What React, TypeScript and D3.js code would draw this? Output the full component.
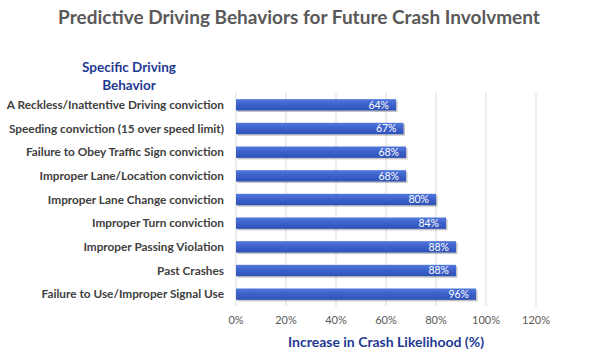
import React from 'react';
import * as d3 from 'd3';

const behaviors = [
    'A Reckless/Inattentive Driving conviction',
    'Speeding conviction (15 over speed limit)',
    'Failure to Obey Traffic Sign conviction',
    'Improper Lane/Location conviction',
    'Improper Lane Change conviction',
    'Improper Turn conviction',
    'Improper Passing Violation',
    'Past Crashes',
    'Failure to Use/Improper Signal Use',
];
const increase = [0.64, 0.67, 0.68, 0.68, 0.80, 0.84, 0.88, 0.88, 0.96];
const xTicks = [0, 0.2, 0.4, 0.6, 0.8, 1.0, 1.2];

const width = 600;
const height = 360;
const font = 'Lato, "Open Sans", sans-serif';

const App: React.FC = () => {
    const x = d3.scaleLinear().domain([0, 1.2]).range([236, 536]);
    const y = d3.scaleBand<string>()
        .domain(behaviors)
        .range([93, 306])
        .paddingInner(0.52)
        .paddingOuter(0.26);
    const pct = d3.format('.0%');

    return (
        <svg width={width} height={height}
            style={{ position: 'absolute', left: 0, top: 0, background: '#fff' }}>
            <defs>
                <linearGradient id="barFill" x1="0" y1="0" x2="0" y2="1">
                    <stop offset="0%" stopColor="#5277dc" />
                    <stop offset="45%" stopColor="#3d62cc" />
                    <stop offset="100%" stopColor="#2f52b8" />
                </linearGradient>
            </defs>
            <rect width={width} height={height} fill="#fff" />

            <text x={299} y={24} textAnchor="middle" fontFamily={font}
                fontWeight="bold" fontSize={19} fill="#595959">
                Predictive Driving Behaviors for Future Crash Involvment
            </text>

            <text textAnchor="middle" fontFamily={font} fontWeight="bold"
                fontSize={13.5} fill="#1f3a93">
                <tspan x={129} y={72}>Specific Driving</tspan>
                <tspan x={129} y={90}>Behavior</tspan>
            </text>

            {/* gridlines */}
            {xTicks.map(t => (
                <line key={t} x1={x(t)} x2={x(t)} y1={93} y2={306}
                    stroke="#d9d9d9" strokeWidth={1} />
            ))}

            {/* bars */}
            {behaviors.map((b, i) => {
                const y0 = y(b)!;
                const bh = y.bandwidth();
                const w = x(increase[i]) - x(0);
                return (
                    <g key={b}>
                        <rect x={x(0) + 1.5} y={y0 + 1.5} width={w} height={bh}
                            fill="#7a7a7a" opacity={0.45} />
                        <rect x={x(0)} y={y0} width={w} height={bh}
                            fill="url(#barFill)" />
                        <text x={x(increase[i]) - 7} y={y0 + bh / 2}
                            dy="0.36em" textAnchor="end" fontFamily={font}
                            fontSize={10.5} fill="#fff">
                            {pct(increase[i])}
                        </text>
                        <text x={224} y={y0 + bh / 2} dy="0.36em"
                            textAnchor="end" fontFamily={font} fontWeight="bold"
                            fontSize={11.8} fill="#404040">
                            {b}
                        </text>
                    </g>
                );
            })}

            {/* x tick labels */}
            {xTicks.map(t => (
                <text key={t} x={x(t)} y={324} textAnchor="middle"
                    fontFamily={font} fontSize={11} fill="#595959">
                    {pct(t)}
                </text>
            ))}

            <text x={386} y={347} textAnchor="middle" fontFamily={font}
                fontWeight="bold" fontSize={14} fill="#1f3a93">
                Increase in Crash Likelihood (%)
            </text>
        </svg>
    );
};

export default App;
